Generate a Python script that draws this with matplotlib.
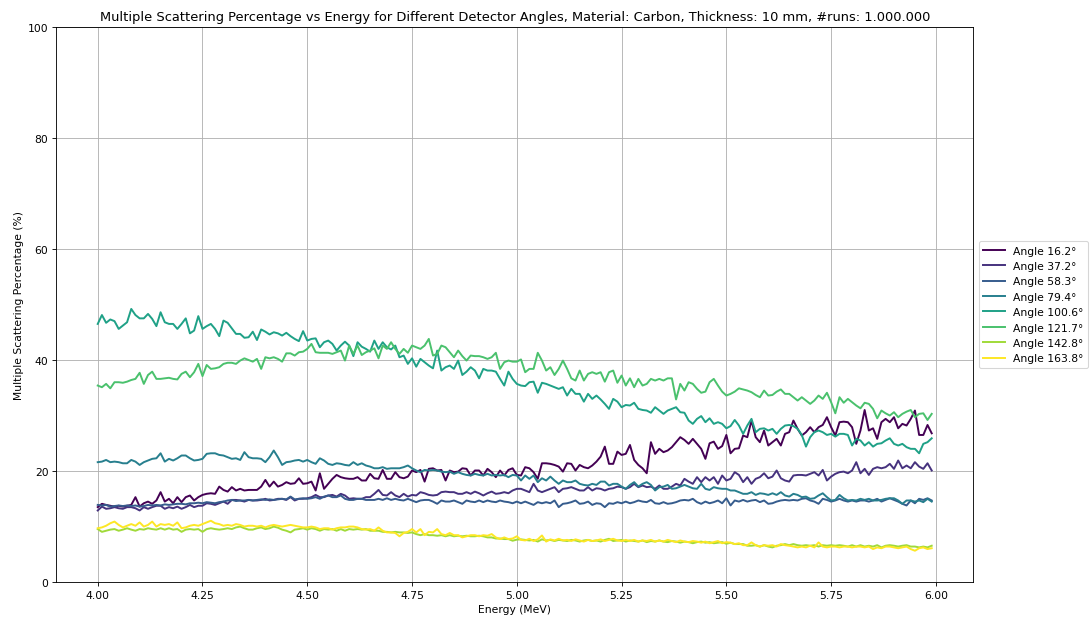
import numpy as np
import matplotlib
matplotlib.use("Agg")
import matplotlib.pyplot as plt

# energy grid 4.00 .. 5.99 MeV in 0.01 steps
energies = np.round(4.00 + 0.01 * np.arange(200), 2)

angles = [16.2, 37.2, 58.3, 79.4, 100.6, 121.7, 142.8, 163.8]

ms_16_2 = [
    13.5, 14.1, 13.9, 13.75, 13.6, 13.75, 13.6, 13.75, 13.9, 15.3,
    13.6, 14.2, 14.5, 14.1, 14.7, 16.2, 14.5, 15.0, 14.2, 15.3,
    14.4, 15.3, 15.6, 14.7, 15.3, 15.7, 15.9, 16.0, 15.9, 17.2,
    16.6, 16.3, 17.1, 16.5, 16.8, 16.5, 16.6, 16.6, 16.6, 17.2,
    18.4, 17.2, 18.1, 17.2, 17.5, 18.0, 17.7, 17.8, 18.7, 17.7,
    17.8, 18.1, 16.5, 19.6, 16.8, 17.7, 18.6, 19.3, 18.9, 18.7,
    18.6, 18.6, 18.9, 18.3, 18.3, 19.5, 18.7, 18.6, 20.2, 18.6,
    18.6, 19.8, 18.9, 18.7, 19.0, 20.1, 19.8, 20.2, 18.1, 20.4,
    20.5, 20.1, 20.2, 18.3, 20.1, 19.8, 19.9, 20.5, 20.4, 19.2,
    20.1, 20.1, 19.2, 20.4, 19.8, 18.9, 20.1, 19.2, 20.2, 20.5,
    19.3, 19.2, 20.7, 20.5, 19.8, 18.6, 21.4, 21.4, 21.3, 21.1,
    20.8, 19.9, 21.4, 21.3, 20.1, 21.1, 20.7, 20.5, 21.0, 21.7,
    22.6, 24.4, 21.3, 21.3, 23.5, 22.9, 23.1, 24.7, 22.0, 21.1,
    20.5, 19.6, 25.2, 23.1, 24.0, 23.4, 23.7, 24.3, 25.2, 26.1,
    25.6, 24.9, 25.8, 24.9, 24.0, 22.2, 25.0, 25.3, 24.0, 24.5,
    26.5, 23.2, 24.0, 24.1, 26.4, 26.1, 29.1, 26.1, 25.2, 27.3,
    24.6, 25.2, 25.8, 24.6, 26.7, 27.0, 29.1, 27.6, 26.4, 27.0,
    27.9, 27.0, 27.9, 28.3, 29.7, 27.9, 26.4, 28.8, 28.9, 28.8,
    27.9, 24.9, 27.3, 31.0, 27.3, 27.7, 25.8, 28.8, 29.4, 28.8,
    29.7, 27.7, 28.5, 28.2, 29.4, 30.9, 26.5, 26.5, 28.3, 26.8,
]

ms_37_2 = [
    12.9, 13.6, 13.2, 13.3, 13.5, 13.3, 13.2, 13.5, 13.5, 13.3,
    12.9, 13.5, 13.2, 13.5, 13.75, 13.75, 13.2, 13.5, 13.3, 13.6,
    13.2, 13.5, 13.9, 13.5, 13.75, 13.75, 14.2, 14.1, 13.9, 14.2,
    14.5, 14.1, 14.8, 14.8, 14.7, 14.5, 14.8, 14.7, 14.7, 14.8,
    15.0, 14.7, 14.8, 15.0, 15.0, 14.8, 15.3, 14.7, 15.0, 15.0,
    15.1, 15.3, 15.7, 15.3, 15.3, 15.6, 15.7, 15.4, 15.9, 15.6,
    15.0, 15.1, 15.0, 15.0, 15.3, 15.3, 15.9, 16.6, 15.7, 15.6,
    16.2, 15.6, 15.3, 15.9, 15.4, 15.7, 15.6, 16.2, 16.0, 15.7,
    15.6, 15.7, 16.2, 16.3, 16.2, 16.2, 15.9, 15.9, 16.2, 15.9,
    16.3, 16.0, 15.6, 16.0, 16.3, 15.9, 16.0, 16.2, 16.0, 16.5,
    16.8, 16.8, 16.5, 16.2, 17.7, 16.5, 16.2, 16.5, 16.8, 17.1,
    16.2, 16.8, 16.9, 17.1, 16.8, 16.5, 16.5, 17.1, 16.5, 16.9,
    16.8, 16.5, 16.8, 16.9, 17.2, 17.1, 16.8, 17.1, 17.7, 17.1,
    17.4, 17.1, 17.2, 16.8, 17.4, 16.8, 16.8, 17.2, 17.7, 17.4,
    18.6, 18.1, 17.7, 18.9, 18.0, 18.9, 18.3, 18.9, 17.7, 19.2,
    18.3, 18.6, 19.8, 19.3, 18.0, 18.9, 17.7, 18.6, 18.9, 19.6,
    18.7, 19.0, 20.1, 18.7, 18.3, 18.1, 19.2, 19.3, 19.3, 19.2,
    19.5, 19.8, 19.2, 20.2, 18.3, 19.0, 19.5, 19.8, 19.9, 19.6,
    20.1, 21.6, 19.6, 20.4, 19.3, 20.4, 20.7, 20.5, 20.7, 21.3,
    20.4, 21.9, 20.5, 21.0, 20.5, 21.6, 20.8, 20.4, 21.4, 20.1,
]

ms_58_3 = [
    13.9, 13.8, 13.9, 13.6, 13.7, 13.8, 13.7, 13.8, 13.7, 13.8,
    13.6, 13.7, 13.9, 13.8, 13.9, 13.8, 14.0, 13.9, 14.0, 14.1,
    14.1, 14.0, 14.2, 14.2, 14.3, 14.2, 14.4, 14.3, 14.2, 14.4,
    14.5, 14.7, 14.8, 14.6, 14.7, 14.7, 14.8, 14.7, 14.8, 14.9,
    14.8, 14.9, 14.8, 14.9, 15.0, 14.9, 15.4, 14.9, 15.0, 15.1,
    15.0, 15.1, 15.3, 15.0, 15.4, 15.6, 15.3, 15.3, 15.6, 15.0,
    14.8, 14.8, 15.0, 15.0, 14.8, 14.8, 14.8, 15.0, 14.8, 15.1,
    14.8, 15.0, 14.8, 14.7, 15.0, 14.7, 14.4, 14.7, 14.8, 14.8,
    14.5, 14.1, 14.7, 14.5, 14.5, 14.7, 14.4, 14.1, 14.7, 14.5,
    14.4, 14.7, 14.4, 14.7, 14.5, 14.4, 14.7, 14.5, 14.4, 14.2,
    14.5, 14.2, 14.5, 14.2, 13.9, 14.4, 14.2, 14.4, 14.2, 14.7,
    13.5, 14.1, 14.2, 14.4, 14.7, 14.1, 14.2, 14.5, 13.9, 14.2,
    14.1, 13.5, 14.2, 14.1, 14.4, 14.2, 14.5, 14.2, 14.4, 14.7,
    14.5, 14.4, 14.8, 14.2, 14.1, 14.4, 14.1, 14.2, 14.4, 14.7,
    14.8, 14.7, 15.0, 14.4, 14.1, 14.5, 14.2, 14.4, 14.7, 14.2,
    15.1, 13.8, 14.7, 14.5, 14.8, 14.5, 14.7, 14.8, 14.4, 14.7,
    14.1, 14.2, 14.5, 14.7, 14.8, 14.7, 14.8, 14.7, 15.0, 15.1,
    14.7, 14.5, 14.1, 15.0, 14.8, 14.5, 14.7, 15.0, 14.7, 14.5,
    14.7, 14.5, 14.7, 14.7, 14.5, 14.7, 15.0, 14.5, 14.8, 15.1,
    14.8, 14.5, 14.1, 13.8, 14.7, 14.2, 15.0, 14.8, 15.1, 14.7,
]

ms_79_4 = [
    21.6, 21.7, 22.0, 21.6, 21.7, 21.6, 21.4, 21.4, 22.0, 21.7,
    21.1, 21.6, 21.9, 22.2, 22.3, 23.2, 21.7, 22.2, 21.9, 22.3,
    22.8, 22.8, 22.3, 21.9, 22.0, 22.2, 23.1, 23.2, 23.2, 22.9,
    22.8, 22.5, 22.2, 22.3, 22.0, 23.4, 22.5, 22.3, 22.3, 22.2,
    21.6, 22.5, 23.7, 22.5, 21.1, 21.6, 21.7, 21.9, 22.0, 21.7,
    22.0, 21.6, 21.3, 22.3, 21.9, 21.3, 21.1, 21.4, 21.3, 21.1,
    21.0, 21.6, 21.1, 21.4, 21.0, 20.8, 20.5, 20.5, 20.7, 20.4,
    20.5, 20.5, 20.5, 20.7, 21.0, 20.5, 20.1, 19.8, 20.2, 20.1,
    20.2, 20.1, 19.9, 19.8, 19.9, 19.5, 19.8, 19.5, 19.3, 19.2,
    19.5, 19.3, 19.2, 19.5, 19.2, 19.3, 19.2, 19.3, 18.9, 19.3,
    19.2, 18.3, 19.2, 18.6, 19.2, 18.0, 18.7, 18.3, 19.0, 18.3,
    17.7, 18.3, 18.0, 18.0, 18.3, 17.7, 17.5, 17.4, 17.7, 17.5,
    18.1, 18.1, 17.4, 17.7, 17.7, 17.2, 16.8, 17.5, 18.0, 17.2,
    17.7, 18.0, 17.5, 16.5, 17.1, 17.2, 17.5, 16.8, 16.9, 17.2,
    17.5, 17.2, 16.9, 16.8, 17.7, 16.8, 16.6, 17.1, 16.9, 16.8,
    16.8, 16.5, 16.5, 16.2, 15.9, 15.9, 16.2, 15.7, 16.0, 15.9,
    15.7, 16.0, 15.7, 16.2, 15.6, 15.4, 15.9, 15.7, 15.3, 15.4,
    15.0, 15.1, 15.6, 16.0, 15.3, 14.7, 14.8, 15.7, 15.1, 14.7,
    14.8, 14.7, 15.0, 14.8, 15.0, 14.7, 14.7, 14.8, 15.0, 15.1,
    15.1, 14.7, 14.1, 14.7, 14.7, 14.5, 14.7, 14.4, 15.0, 14.5,
]

ms_100_6 = [
    46.5, 48.1, 46.7, 47.3, 47.0, 45.6, 46.2, 46.8, 49.2, 48.1,
    47.5, 47.5, 48.3, 47.4, 46.1, 48.6, 46.8, 46.5, 46.5, 45.6,
    46.5, 47.5, 44.8, 45.3, 47.9, 45.6, 46.1, 46.5, 45.6, 44.3,
    47.1, 46.7, 45.7, 44.7, 44.7, 44.0, 44.1, 45.1, 43.6, 45.5,
    45.1, 44.6, 45.0, 44.8, 44.4, 44.9, 44.3, 43.8, 43.4, 45.2,
    43.5, 43.8, 43.9, 42.3, 43.2, 43.5, 42.9, 41.7, 42.6, 43.3,
    42.6, 40.7, 43.2, 42.4, 42.0, 41.5, 43.5, 42.0, 43.2, 42.3,
    41.9, 42.6, 40.5, 40.8, 39.3, 40.3, 38.8, 40.2, 39.6, 39.0,
    38.5, 41.7, 38.1, 38.7, 39.0, 38.4, 39.9, 37.3, 37.9, 38.7,
    38.1, 36.7, 38.4, 38.1, 38.1, 37.9, 36.6, 35.4, 37.9, 36.6,
    35.7, 35.4, 35.3, 36.0, 36.1, 34.1, 35.9, 35.7, 35.4, 35.1,
    34.8, 35.1, 33.6, 34.8, 33.9, 33.9, 32.5, 33.9, 33.0, 33.6,
    32.9, 32.1, 31.2, 33.0, 32.5, 31.5, 31.9, 31.8, 32.3, 31.2,
    31.0, 30.9, 30.5, 31.5, 30.9, 30.3, 30.9, 31.2, 31.5, 30.6,
    30.5, 29.1, 28.5, 29.4, 29.9, 28.8, 29.5, 28.5, 28.8, 28.5,
    27.7, 28.1, 29.2, 28.2, 26.7, 28.2, 29.4, 27.0, 27.6, 27.7,
    27.3, 27.6, 26.7, 27.6, 28.2, 28.3, 28.1, 27.6, 26.5, 24.4,
    26.1, 27.0, 27.3, 27.0, 26.5, 26.7, 26.2, 26.7, 26.7, 26.5,
    24.6, 25.8, 25.5, 24.6, 25.2, 24.4, 24.9, 25.0, 25.5, 25.9,
    24.9, 24.6, 24.9, 24.3, 24.0, 24.0, 23.2, 24.9, 25.2, 25.9,
]

ms_121_7 = [
    35.4, 35.1, 35.7, 34.9, 36.0, 36.0, 35.9, 36.1, 36.4, 36.6,
    37.7, 35.7, 37.3, 37.9, 36.6, 36.6, 36.7, 36.8, 36.6, 36.5,
    37.5, 37.9, 36.9, 37.8, 39.3, 37.1, 39.1, 38.4, 38.5, 38.7,
    39.3, 39.5, 39.5, 39.3, 39.9, 40.3, 40.0, 39.7, 40.2, 38.4,
    40.5, 40.3, 40.5, 40.2, 39.7, 41.2, 41.2, 40.8, 41.4, 41.5,
    42.0, 42.9, 41.4, 41.3, 41.3, 41.3, 41.1, 41.4, 41.7, 39.9,
    42.6, 41.1, 42.6, 40.9, 41.4, 41.7, 42.1, 40.3, 42.6, 42.0,
    43.2, 42.0, 41.1, 42.0, 41.3, 42.6, 42.3, 42.0, 42.6, 43.8,
    40.8, 41.1, 42.6, 42.3, 41.4, 40.5, 41.7, 40.7, 39.9, 40.8,
    40.7, 40.7, 40.5, 40.2, 40.5, 41.3, 38.4, 39.6, 39.9, 39.7,
    39.7, 40.1, 37.8, 38.4, 38.4, 41.3, 39.9, 38.1, 38.7, 37.3,
    38.4, 39.9, 38.4, 36.7, 36.3, 38.1, 36.3, 37.5, 37.8, 37.5,
    37.8, 36.1, 37.8, 38.1, 35.9, 37.2, 35.4, 36.7, 35.1, 36.6,
    35.4, 35.7, 36.6, 36.3, 36.6, 36.3, 36.7, 36.7, 32.9, 35.7,
    34.5, 36.0, 35.7, 34.8, 34.1, 34.3, 36.0, 36.6, 35.4, 34.3,
    33.6, 33.9, 34.3, 34.9, 34.7, 34.5, 34.2, 33.7, 33.3, 34.5,
    33.6, 33.7, 34.3, 34.7, 33.9, 33.9, 33.3, 32.7, 33.3, 32.7,
    32.1, 32.7, 33.6, 33.0, 34.1, 32.4, 30.4, 33.3, 32.3, 33.0,
    32.4, 31.8, 31.3, 32.3, 32.1, 31.2, 29.5, 30.9, 30.4, 30.0,
    30.6, 29.7, 30.3, 30.7, 31.0, 29.7, 30.3, 30.4, 29.2, 30.3,
]

ms_142_8 = [
    9.55, 9.05, 9.25, 9.45, 9.55, 9.25, 9.45, 9.7, 9.45, 9.25,
    9.55, 9.45, 9.7, 9.55, 9.45, 9.7, 9.45, 9.7, 9.45, 9.55,
    9.05, 9.45, 9.55, 9.45, 9.55, 9.05, 9.55, 9.7, 9.55, 9.45,
    9.55, 9.7, 9.55, 9.85, 10.0, 9.7, 9.45, 9.45, 9.7, 9.85,
    9.55, 9.7, 10.0, 9.8, 9.45, 9.25, 8.95, 9.45, 9.55, 9.7,
    9.45, 9.7, 9.55, 9.25, 9.55, 9.45, 9.55, 9.25, 9.55, 9.25,
    9.55, 9.45, 9.55, 9.45, 9.55, 9.25, 9.25, 9.25, 9.05, 9.05,
    8.95, 9.05, 8.95, 8.95, 8.85, 8.95, 8.65, 8.45, 8.65, 8.45,
    8.45, 8.35, 8.45, 8.25, 8.45, 8.25, 8.35, 8.25, 8.35, 8.25,
    8.25, 8.35, 8.25, 8.05, 8.05, 7.85, 7.85, 7.75, 7.75, 7.45,
    7.65, 7.7, 7.6, 7.5, 7.6, 7.3, 7.7, 7.5, 7.6, 7.4,
    7.6, 7.5, 7.4, 7.6, 7.5, 7.3, 7.5, 7.6, 7.4, 7.5,
    7.3, 7.6, 7.8, 7.4, 7.5, 7.6, 7.3, 7.5, 7.4, 7.3,
    7.5, 7.2, 7.4, 7.3, 7.5, 7.3, 7.2, 7.4, 7.3, 7.1,
    7.3, 7.2, 7.0, 7.2, 7.3, 7.1, 7.2, 7.0, 7.1, 7.2,
    6.9, 7.1, 6.85, 6.85, 6.85, 6.55, 6.55, 6.65, 6.4, 6.65,
    6.4, 6.25, 6.55, 6.65, 6.85, 6.65, 6.85, 6.65, 6.55, 6.65,
    6.55, 6.65, 6.4, 6.65, 6.55, 6.65, 6.55, 6.65, 6.55, 6.4,
    6.65, 6.4, 6.65, 6.4, 6.55, 6.4, 6.65, 6.25, 6.55, 6.65,
    6.55, 6.4, 6.55, 6.65, 6.4, 6.4, 6.25, 6.4, 6.25, 6.55,
]

ms_163_8 = [
    9.7, 9.85, 10.15, 10.6, 10.9, 10.3, 9.85, 10.15, 10.45, 10.15,
    10.75, 10.0, 10.3, 10.9, 10.0, 10.45, 10.3, 10.45, 10.15, 10.75,
    9.7, 9.85, 10.15, 10.3, 10.15, 10.45, 10.75, 11.05, 10.6, 10.45,
    10.15, 10.3, 10.15, 10.45, 10.3, 10.0, 10.15, 10.15, 10.0, 10.15,
    9.85, 10.15, 10.3, 10.15, 10.0, 10.15, 10.3, 10.15, 10.0, 9.85,
    9.85, 10.0, 9.85, 9.55, 9.7, 9.7, 9.45, 9.7, 9.85, 9.85,
    10.0, 10.0, 9.85, 9.55, 9.45, 9.55, 9.25, 9.85, 9.25, 8.95,
    8.95, 8.85, 8.25, 8.85, 9.05, 9.55, 8.95, 9.55, 8.45, 9.05,
    8.95, 9.55, 8.65, 8.45, 8.85, 8.45, 8.45, 8.05, 8.25, 8.45,
    8.45, 8.25, 8.45, 8.35, 8.65, 8.05, 7.75, 8.05, 7.75, 7.85,
    8.25, 7.6, 7.5, 7.8, 7.4, 7.7, 8.4, 7.3, 7.7, 7.5,
    7.8, 7.5, 7.6, 7.4, 7.7, 7.5, 7.3, 7.6, 7.4, 7.5,
    7.7, 7.4, 7.6, 7.8, 7.5, 7.4, 7.6, 7.4, 7.6, 7.3,
    7.5, 7.4, 7.6, 7.3, 7.5, 7.3, 7.6, 7.4, 7.2, 7.5,
    7.3, 7.2, 7.4, 7.3, 7.1, 7.3, 7.0, 7.2, 7.4, 7.0,
    7.2, 7.1, 6.85, 7.0, 6.65, 6.65, 7.15, 6.65, 6.4, 6.65,
    6.55, 6.65, 6.4, 6.85, 6.65, 6.55, 6.4, 6.25, 6.4, 6.25,
    6.55, 6.25, 7.15, 6.4, 6.25, 6.4, 6.4, 6.25, 6.4, 6.4,
    6.25, 6.4, 6.4, 6.25, 6.4, 5.95, 6.25, 6.1, 6.4, 6.4,
    6.25, 6.1, 6.25, 6.4, 5.95, 5.65, 6.1, 6.25, 5.95, 6.1,
]

series = [ms_16_2, ms_37_2, ms_58_3, ms_79_4, ms_100_6, ms_121_7, ms_142_8, ms_163_8]

fig = plt.figure(figsize=(14, 7.95), dpi=77.86)
fig.subplots_adjust(left=0.0514, right=0.893, bottom=0.058, top=0.955)
colors = plt.cm.viridis(np.linspace(0, 1, len(angles)))

for angle, values, color in zip(angles, series, colors):
    plt.plot(energies, values, color=color, linewidth=1.8, label=f'Angle {angle}°')

plt.xlabel('Energy (MeV)')
plt.ylabel('Multiple Scattering Percentage (%)')
plt.title('Multiple Scattering Percentage vs Energy for Different Detector Angles, '
          'Material: Carbon, Thickness: 10 mm, #runs: 1.000.000')
plt.ylim(0, 100)
plt.legend(loc='center left', bbox_to_anchor=(1, 0.5))
plt.grid(True)
plt.savefig('out.png', dpi=77.86)
